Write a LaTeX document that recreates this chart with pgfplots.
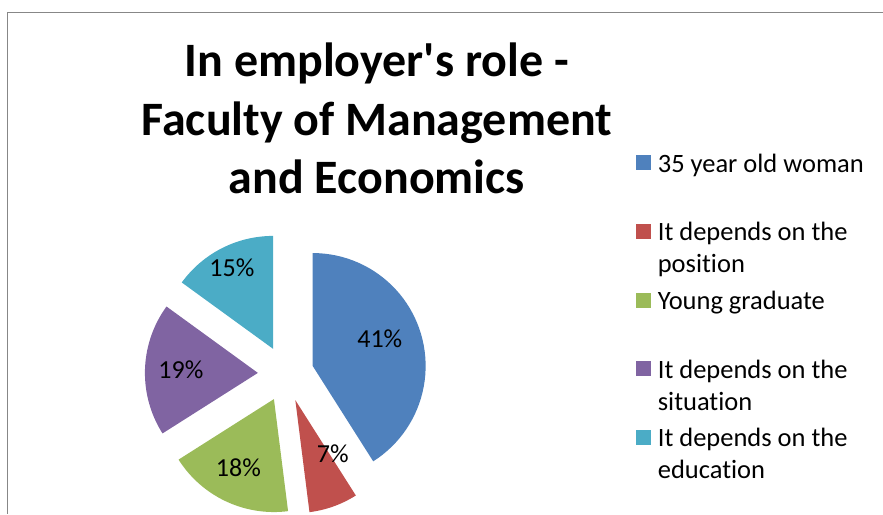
\documentclass[border=0pt]{standalone}
\usepackage{pgfplots}
\pgfplotsset{compat=1.18}
\usepackage{fontspec}
\setmainfont{Carlito}[Ligatures=NoCommon]

\definecolor{c1}{HTML}{4F81BD}
\definecolor{c2}{HTML}{C0504D}
\definecolor{c3}{HTML}{9BBB59}
\definecolor{c4}{HTML}{8064A2}
\definecolor{c5}{HTML}{4BACC6}
\definecolor{frame}{HTML}{878787}

% pie geometry (1pt = 1px of the reference, y measured upwards)
\def\cx{286}\def\cy{140}\def\R{113}\def\ex{28}

% start %, value %, colour, label x, label y, legend text
\newcommand\slice[6]{%
  \pgfmathsetmacro\aA{90-3.6*#1}%
  \pgfmathsetmacro\aB{90-3.6*(#1+#2)}%
  \pgfmathsetmacro\ox{\cx+\ex*cos((\aA+\aB)/2)}%
  \pgfmathsetmacro\oy{\cy+\ex*sin((\aA+\aB)/2)}%
  \addplot[fill=#3, draw=none, domain=0:1.02, samples=52]
    ({\ox+(x>1.01 ? 0 : \R)*cos(\aA+(\aB-\aA)*min(x,1))},
     {\oy+(x>1.01 ? 0 : \R)*sin(\aA+(\aB-\aA)*min(x,1))});
  \addlegendentry{#6}
  \node[font=\fontsize{26}{31}\selectfont, inner sep=0pt] at (axis cs:#4,#5) {#2\%};
}

\begin{document}
\begin{tikzpicture}
\begin{axis}[
  x=1pt, y=1pt,
  xmin=0, xmax=883, ymin=0, ymax=514,
  hide axis, clip=false,
  legend image code/.code={\fill[#1] (0pt,2pt) rectangle (15pt,17pt);},
  legend style={at={(axis cs:636,361)}, anchor=north west,
    draw=none, fill=none, inner sep=0pt,
    row sep=11.75pt, column sep=7pt,
    font=\fontsize{26.5}{32}\selectfont,
    cells={anchor=base west},
    nodes={inner sep=0pt, text height=19pt, text depth=38pt, anchor=base west}},
]
\path (axis cs:0,0) rectangle (axis cs:883,514);

\slice{0}{41}{c1}{380}{175}{35 year old woman}
\slice{41}{7}{c2}{333}{60}{\parbox[t]{220pt}{It depends on the\\position}}
\slice{48}{18}{c3}{238.5}{46}{Young graduate}
\slice{66}{19}{c4}{181}{144}{\parbox[t]{220pt}{It depends on the\\situation}}
\slice{85}{15}{c5}{232}{246}{\parbox[t]{220pt}{It depends on the\\education}}

\node[anchor=base, inner sep=0pt] at (axis cs:377,437)
  {\parbox[t]{600pt}{\centering\fontsize{48}{58.5}\selectfont\bfseries
   In employer\textquotesingle s role -\\Faculty of Management\\and Economics}};

\draw[frame, line width=1pt] (axis cs:7.5,0) -- (axis cs:7.5,501.5) -- (axis cs:883,501.5);
\end{axis}
\end{tikzpicture}
\end{document}
